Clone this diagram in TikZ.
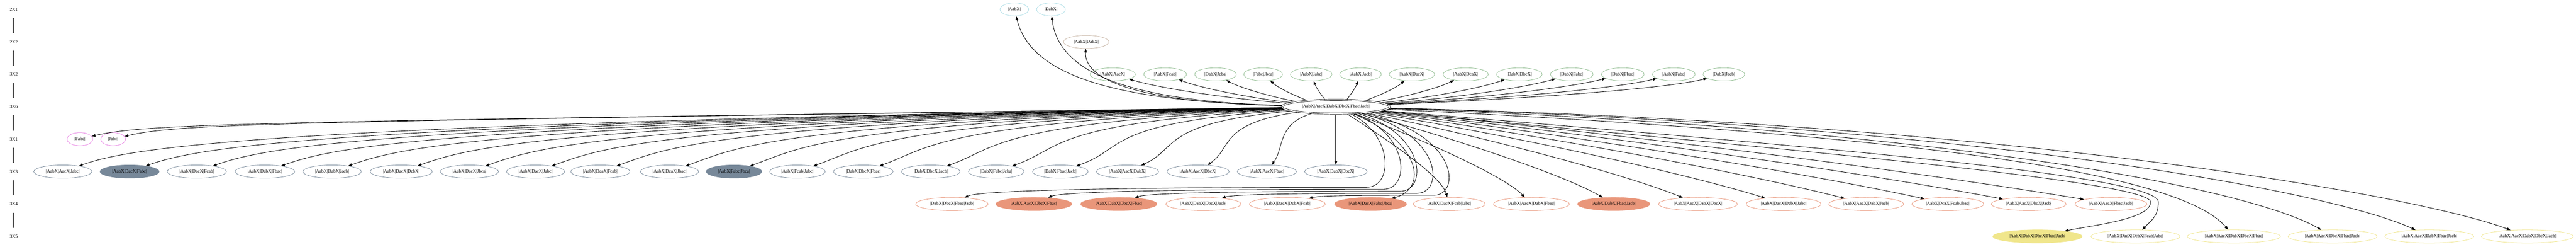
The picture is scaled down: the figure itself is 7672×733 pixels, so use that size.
\documentclass[tikz,border=0pt]{standalone}
\usepackage{fontspec}
\setmainfont{Liberation Serif}
\usetikzlibrary{shapes.geometric,arrows.meta,calc}
\definecolor{cyanc}{HTML}{ABDDE6}
\definecolor{tanc}{HTML}{C8B6A6}
\definecolor{greenc}{HTML}{8FBC8F}
\definecolor{magc}{HTML}{E77CE3}
\definecolor{slatec}{HTML}{778899}
\definecolor{salc}{HTML}{E9967A}
\definecolor{khc}{HTML}{F0E68C}
% fan edge: #1,#2 = fractions for first control, #3 = target
\newcommand\fanx[3]{\draw[edge] let \p1=(c.center), \p2=(#3.center), \n1={\x2-\x1}, \n2={\y2-\y1} in
  (c) .. controls ({\x1+#1*(\n1)},{\y1+#2*(\n2)}) and ({\x2-min(max(0.25*(\n1),-200),200)},{\y2-min(max(0.5*(\n2),-70),70)}) .. (#3);}
\newcommand\fanlow[1]{\draw[edge] let \p1=(c.center), \p2=(#1.center), \n1={\x2-\x1}, \n2={\y2-\y1} in
  (c) .. controls ({\x1+0.85*(\n1)},{\y1+0.05*(\n2)-40}) and ({\x2-min(max(0.25*(\n1),-200),200)},{\y2-min(max(0.5*(\n2),-70),70)}) .. (#1);}
\newcommand\fanr[1]{\draw[edge] let \p1=(c.center), \p2=(#1.center), \n1={\x2-\x1}, \n2={\y2-\y1} in
  (c) .. controls ({\x1+0.4*(\n1)},{\y1+0.3*(\n2)}) and ({\x2-max(0,0.25*(\n1)-60)},{\y2-0.3*(\n2)}) .. (#1);}
\newcommand\hookedge[3]{\draw[edge] let \p2=(#1.center) in
  (c) .. controls ({#2+40},-400) and ({#2+40},{-#3}) .. ({#2-40},{-#3})
  .. controls ({#2-240},{-#3}) and ({\x2+100},{-#3}) .. (#1);}
\begin{document}
\begin{tikzpicture}[x=1pt,y=1pt,
  every node/.style={font=\fontsize{13.75}{16}\selectfont},
  nd/.style={ellipse, draw, line width=1.2pt, inner xsep=11pt, inner ysep=2pt, minimum height=39pt},
  cy/.style={nd, draw=cyanc},
  tn/.style={nd, draw=tanc},
  gr/.style={nd, draw=greenc},
  mg/.style={nd, draw=magc},
  sl/.style={nd, draw=slatec},
  slf/.style={sl, fill=slatec},
  sa/.style={nd, draw=salc},
  saf/.style={sa, fill=salc},
  kh/.style={nd, draw=khc},
  khf/.style={kh, fill=khc},
  edge/.style={line width=1.35pt, -{Triangle[length=11pt,width=8pt]}},
  rank/.style={inner sep=0pt, minimum height=51pt, minimum width=30pt},
  rankline/.style={line width=1.3pt}
]
\useasboundingbox (0,0) rectangle (7672,-733);
\fill[white] (0,0) rectangle (7672,-733);

% rank labels
\node[rank] (r0) at (41,-28) {2X1};
\node[rank] (r1) at (41,-124.5) {2X2};
\node[rank] (r2) at (41,-220.8) {3X2};
\node[rank] (r3) at (41,-317) {3X6};
\node[rank] (r4) at (41,-413.3) {3X1};
\node[rank] (r5) at (41,-509.6) {3X3};
\node[rank] (r6) at (41,-605.8) {3X4};
\node[rank] (r7) at (41,-702) {3X5};
\draw[rankline] (r0) -- (r1);
\draw[rankline] (r1) -- (r2);
\draw[rankline] (r2) -- (r3);
\draw[rankline] (r3) -- (r4);
\draw[rankline] (r4) -- (r5);
\draw[rankline] (r5) -- (r6);
\draw[rankline] (r6) -- (r7);

% center
\node[ellipse, draw, line width=1.1pt, double, double distance=2.8pt, inner xsep=13pt, inner ysep=2pt,
      minimum height=41pt, outer sep=2.5pt] (c) at (3978.5,-317) {|AabX|AacX|DabX|DbcX|Fbac|Jacb|};

% row 2X1, 2X2
\node[cy] (a1) at (3021,-28) {|AabX|};
\node[cy] (a2) at (3130,-28) {|DabX|};
\node[tn] (b1) at (3235,-124.5) {|AabX|DabX|};

% row 3X2
\node[gr] (g1) at (3314,-220.8) {|AabX|AacX|};
\node[gr] (g2) at (3470,-220.8) {|AabX|Fcab|};
\node[gr] (g3) at (3620,-220.8) {|DabX|Jcba|};
\node[gr] (g4) at (3762,-220.8) {|Fabc|Jbca|};
\node[gr] (g5) at (3905,-220.8) {|AabX|Jabc|};
\node[gr] (g6) at (4052,-220.8) {|AabX|Jacb|};
\node[gr] (g7) at (4205,-220.8) {|AabX|DacX|};
\node[gr] (g8) at (4365,-220.8) {|AabX|DcaX|};
\node[gr] (g9) at (4525,-220.8) {|DabX|DbcX|};
\node[gr] (g10) at (4681,-220.8) {|DabX|Fabc|};
\node[gr] (g11) at (4833,-220.8) {|DabX|Fbac|};
\node[gr] (g12) at (4985,-220.8) {|AabX|Fabc|};
\node[gr] (g13) at (5134,-220.8) {|DabX|Jacb|};

% row 3X1
\node[mg] (m1) at (238,-413.3) {|Fabc|};
\node[mg] (m2) at (337,-413.3) {|Jabc|};

% row 3X3
\node[sl]  (s1) at (187,-509.6) {|AabX|AacX|Jabc|};
\node[slf] (s2) at (386,-509.6) {|AabX|DacX|Fabc|};
\node[sl]  (s3) at (586,-509.6) {|AabX|DacX|Fcab|};
\node[sl]  (s4) at (789,-509.6) {|AabX|DabX|Fbac|};
\node[sl]  (s5) at (989,-509.6) {|AabX|DabX|Jacb|};
\node[sl]  (s6) at (1195,-509.6) {|AabX|DacX|DcbX|};
\node[sl]  (s7) at (1398,-509.6) {|AabX|DacX|Jbca|};
\node[sl]  (s8) at (1595,-509.6) {|AabX|DacX|Jabc|};
\node[sl]  (s9) at (1788,-509.6) {|AabX|DcaX|Fcab|};
\node[sl]  (s10) at (1994,-509.6) {|AabX|DcaX|Jbac|};
\node[slf] (s11) at (2186,-509.6) {|AabX|Fabc|Jbca|};
\node[sl]  (s12) at (2375,-509.6) {|AabX|Fcab|Jabc|};
\node[sl]  (s13) at (2571,-509.6) {|DabX|DbcX|Fbac|};
\node[sl]  (s14) at (2772,-509.6) {|DabX|DbcX|Jacb|};
\node[sl]  (s15) at (2967,-509.6) {|DabX|Fabc|Jcba|};
\node[sl]  (s16) at (3158,-509.6) {|DabX|Fbac|Jacb|};
\node[sl]  (s17) at (3358,-509.6) {|AabX|AacX|DabX|};
\node[sl]  (s18) at (3568,-509.6) {|AabX|AacX|DbcX|};
\node[sl]  (s19) at (3773,-509.6) {|AabX|AacX|Fbac|};
\node[sl]  (s20) at (3978.5,-509.6) {|AabX|DabX|DbcX|};

% row 3X4
\node[sa]  (q1) at (2835,-605.8) {|DabX|DbcX|Fbac|Jacb|};
\node[saf] (q2) at (3079,-605.8) {|AabX|AacX|DbcX|Fbac|};
\node[saf] (q3) at (3332,-605.8) {|AabX|DabX|DbcX|Fbac|};
\node[sa]  (q4) at (3584,-605.8) {|AabX|DabX|DbcX|Jacb|};
\node[sa]  (q5) at (3834,-605.8) {|AabX|DacX|DcbX|Fcab|};
\node[saf] (q6) at (4082,-605.8) {|AabX|DacX|Fabc|Jbca|};
\node[sa]  (q7) at (4316,-605.8) {|AabX|DacX|Fcab|Jabc|};
\node[sa]  (q8) at (4561,-605.8) {|AabX|AacX|DabX|Fbac|};
\node[saf] (q9) at (4806,-605.8) {|AabX|DabX|Fbac|Jacb|};
\node[sa]  (q10) at (5057,-605.8) {|AabX|AacX|DabX|DbcX|};
\node[sa]  (q11) at (5312,-605.8) {|AabX|DacX|DcbX|Jabc|};
\node[sa]  (q12) at (5558,-605.8) {|AabX|AacX|DabX|Jacb|};
\node[sa]  (q13) at (5801,-605.8) {|AabX|DcaX|Fcab|Jbac|};
\node[sa]  (q14) at (6042,-605.8) {|AabX|AacX|DbcX|Jacb|};
\node[sa]  (q15) at (6287,-605.8) {|AabX|AacX|Fbac|Jacb|};

% row 3X5
\node[khf] (k1) at (6068,-702) {|AabX|DabX|DbcX|Fbac|Jacb|};
\node[kh]  (k2) at (6360,-702) {|AabX|DacX|DcbX|Fcab|Jabc|};
\node[kh]  (k3) at (6653,-702) {|AabX|AacX|DabX|DbcX|Fbac|};
\node[kh]  (k4) at (6947,-702) {|AabX|AacX|DbcX|Fbac|Jacb|};
\node[kh]  (k5) at (7235,-702) {|AabX|AacX|DabX|Fbac|Jacb|};
\node[kh]  (k6) at (7527,-702) {|AabX|AacX|DabX|DbcX|Jacb|};

% edges upward
\draw[edge] (c) .. controls (3250,-300) and (3065,-200) .. (a1);
\draw[edge] (c) .. controls (3320,-300) and (3150,-200) .. (a2);
\draw[edge] (c) .. controls (3400,-305) and (3228,-240) .. (b1);
\foreach \t in {g1,g2,g3,g4,g5,g6,g7,g8,g9,g10,g11,g12,g13} {\fanx{0.4}{0.2}{\t}}

% edges to 3X1 and 3X3
\foreach \t in {m1,m2,s1,s2,s3,s4,s5,s6,s7,s8,s9,s10,s11,s12,s13,s14,s15,s16,s17,s18,s19,s20} {\fanlow{\t}}

% edges to 3X4
\hookedge{q1}{4110}{556}
\hookedge{q2}{4160}{562}
\hookedge{q3}{4210}{568}
\hookedge{q4}{4260}{574}
\hookedge{q5}{4310}{580}
\draw[edge] (c) .. controls (4230,-420) and (4255,-560) .. (q6);
\foreach \t in {q7,q8,q9,q10,q11,q12,q13,q14,q15} {\fanr{\t}}

% edges to 3X5
\draw[edge] (c) .. controls (5400,-450) and (6405,-540) .. (6405,-600)
   .. controls (6405,-650) and (6240,-668) .. (k1);
\draw[edge] (c) .. controls (5400,-435) and (6428,-520) .. (6428,-600)
   .. controls (6428,-640) and (6410,-652) .. (k2);
\draw[edge] (c) .. controls (5600,-395) and (6480,-500) .. (k3);
\draw[edge] (c) .. controls (5800,-380) and (6700,-560) .. (k4);
\draw[edge] (c) .. controls (5900,-370) and (6950,-570) .. (k5);
\draw[edge] (c) .. controls (6000,-365) and (7200,-580) .. (k6);
\end{tikzpicture}
\end{document}
